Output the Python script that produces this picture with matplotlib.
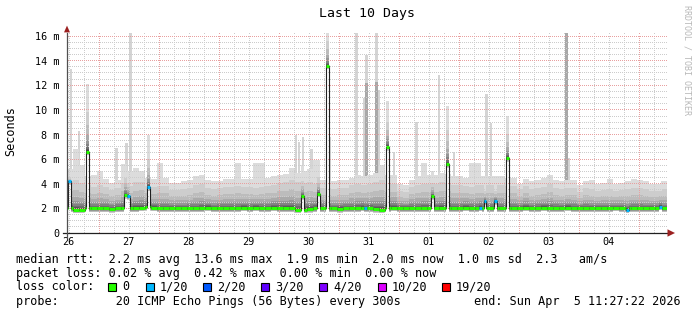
import numpy as np
import matplotlib
matplotlib.use('Agg')
import matplotlib.pyplot as plt
from matplotlib.patches import Rectangle, Polygon

plt.rcParams['font.family'] = ['DejaVu Sans Mono']

# time axis: hours since Thu Mar 26 11:27:22, 10 days shown
bin_h = 2.4
day_labels = ['26', '27', '28', '29', '30', '31', '01', '02', '03', '04']
noon_offset = 0.544          # first label (noon) in hours from start

# median rtt per bin (ms)
med = [2.0, 1.9, 1.9, 2.0, 2.0, 2.0, 2.0, 1.95, 2.0, 2.0,
       2.0, 2.0, 2.05, 2.1, 2.05, 2.0, 2.0, 2.0, 2.0, 2.0,
       2.0, 2.0, 2.0, 2.05, 2.0, 2.0, 2.0, 2.0, 2.0, 2.05,
       2.0, 2.05, 2.0, 2.0, 2.05, 2.0, 2.0, 2.0, 1.9, 1.9,
       1.95, 2.0, 2.0, 2.0, 2.0, 1.95, 2.0, 2.0, 2.0, 2.05,
       2.0, 1.95, 1.9, 2.0, 2.05, 2.0, 2.0, 2.0, 2.0, 2.0,
       2.0, 2.0, 2.0, 2.0, 2.0, 2.0, 2.05, 2.0, 2.0, 2.0,
       2.0, 2.0, 2.0, 2.0, 2.0, 2.0, 2.05, 2.0, 2.0, 2.05,
       2.0, 2.0, 2.0, 2.05, 2.0, 2.0, 2.0, 2.0, 2.0, 2.0,
       2.0, 2.05, 2.0, 2.0, 2.0, 2.0, 2.0, 2.0, 2.0, 2.0]
loss = [0] * 100

# upper smoke level and max ping per bin (ms)
smoke_hi = [4.6, 4.8, 4.5, 4.3, 4.1, 4.3, 4.1, 3.8, 4.0, 4.5,
            4.2, 4.6, 4.6, 4.2, 4.1, 4.2, 4.2, 3.8, 3.8, 3.9,
            4.0, 4.3, 4.4, 4.0, 3.9, 4.0, 4.1, 4.1, 4.2, 4.1,
            4.1, 4.0, 4.1, 4.2, 4.3, 4.5, 4.6, 4.8, 4.6, 4.5,
            4.6, 4.4, 4.0, 4.0, 3.9, 4.0, 4.0, 4.3, 4.4, 4.3,
            4.4, 4.6, 4.8, 4.4, 4.4, 3.7, 3.6, 4.1, 4.3, 4.4,
            4.4, 4.4, 4.6, 4.5, 4.3, 4.3, 4.2, 4.1, 4.3, 4.3,
            4.3, 4.3, 4.3, 4.2, 4.2, 3.9, 4.2, 3.9, 4.0, 4.1,
            4.4, 4.0, 3.9, 4.0, 4.0, 3.6, 4.0, 3.9, 3.7, 3.8,
            3.9, 3.7, 3.8, 3.9, 4.0, 4.0, 3.9, 3.7, 3.7, 3.9]
smoke_max = [5.2, 6.8, 5.5, 4.6, 4.7, 5.0, 4.4, 4.1, 4.3, 5.6,
             5.0, 5.3, 5.0, 4.5, 4.4, 5.7, 4.5, 4.1, 4.1, 4.2,
             4.3, 4.6, 4.7, 4.3, 4.2, 4.2, 4.4, 4.4, 5.7, 4.4,
             4.4, 5.7, 5.7, 4.5, 4.6, 4.7, 4.8, 5.3, 4.9, 5.0,
             5.2, 5.9, 4.3, 4.3, 4.2, 4.3, 4.3, 4.5, 4.7, 4.6,
             4.7, 4.9, 5.5, 4.7, 4.7, 4.0, 3.9, 4.3, 4.6, 5.7,
             4.7, 4.7, 4.9, 4.8, 4.6, 4.6, 4.5, 5.7, 5.7, 4.6,
             4.6, 4.6, 4.6, 4.5, 4.5, 4.0, 4.4, 4.2, 4.3, 4.5,
             4.7, 4.3, 4.2, 4.3, 4.3, 3.9, 4.2, 4.3, 4.0, 4.1,
             4.4, 4.0, 4.1, 4.2, 4.4, 4.3, 4.2, 4.0, 4.0, 4.2]

# short intervals where median moved / packets were lost
jump_t    = [0.2, 7.6, 22.6, 23.8, 31.8, 93.4, 99.8, 103.6, 118.7, 127.6,
             145.6, 151.6, 164.8, 166.6, 170.8, 175.6, 223.6, 236.8]
jump_med  = [4.2, 6.6, 3.1, 3.0, 3.7, 3.0, 3.2, 13.6, 2.0, 7.0,
             3.0, 5.6, 2.05, 2.6, 2.6, 6.1, 1.9, 2.15]
jump_hi   = [4.6, 10.5, 4.8, 4.3, 6.5, 4.5, 4.8, 16.0, 4.3, 9.5,
             4.3, 9.0, 4.3, 3.6, 3.6, 8.5, 3.9, 3.7]
jump_max  = [5.0, 12.1, 5.6, 4.6, 8.0, 5.5, 5.9, 16.3, 4.5, 10.7,
             5.0, 10.3, 4.6, 4.0, 4.0, 9.5, 4.2, 3.9]
jump_loss = [1, 0, 0, 1, 1, 0, 0, 0, 1, 0,
             0, 0, 1, 1, 1, 0, 1, 1]

# single outlier spikes: time, max ping, second ping level (0 = lone ping)
spike_t   = [1.6, 3.8, 4.8, 19.8, 23.8, 25.4, 91.6, 92.8, 94.4, 97.8,
             105.0, 115.8, 118.8, 119.8, 123.8, 124.8, 130.8, 139.8, 148.8, 154.8,
             167.8, 169.6, 199.8, 200.8]
spike_top = [13.3, 6.8, 8.3, 6.9, 7.3, 16.3, 8.0, 7.4, 7.8, 6.8,
             7.8, 16.3, 11.0, 14.5, 16.3, 11.6, 6.6, 9.0, 12.8, 6.6,
             11.3, 8.9, 16.3, 6.1]
spike_mid = [0, 0, 0, 0, 0, 0, 0, 0, 0, 0,
             0, 0, 0, 12.2, 12.3, 0, 0, 0, 0, 0,
             0, 0, 16.3, 0]

loss_colors = {0: '#26ff00', 1: '#00b8ff', 2: '#0059ff', 3: '#5e00ff',
               4: '#7e00ff', 10: '#dd00ff', 19: '#ff0000'}
legend_keys = [0, 1, 2, 3, 4, 10, 19]
legend_names = ['0', '1/20', '2/20', '3/20', '4/20', '10/20', '19/20']

W, H = 697, 315
PW, PH = 600, 200
fig = plt.figure(figsize=(W / 100, H / 100), dpi=100)
ax = fig.add_axes([67 / W, 1 - 233 / H, PW / W, PH / H])
ymax = PH / 12.31
ax.set_xlim(0, 240)
ax.set_ylim(0, ymax)
for s in ax.spines.values():
    s.set_visible(False)

shades = [220, 205, 188, 170, 150, 130, 110, 90, 70, 50]
f_up = [0.82, 0.55, 0.36, 0.24, 0.16, 0.10, 0.06, 0.03, 0.015]
g_lo = [0.0, 0.15, 0.3, 0.42, 0.52, 0.6, 0.68, 0.75, 0.82]


def smoke(edges, m, hi, mx, z):
    m = np.asarray(m, float)
    hi = np.asarray(hi, float)
    mx = np.asarray(mx, float)
    lo = m - 0.3
    def fill(lower, upper, c):
        ax.fill_between(edges, np.append(lower, lower[-1]), np.append(upper, upper[-1]),
                        step='post', color=c, lw=0, zorder=z)
    fill(lo, mx, '#%02x%02x%02x' % ((shades[0],) * 3))
    for k in range(9):
        up = m + (hi - m) * f_up[k]
        dn = lo + (m - lo) * g_lo[k]
        fill(dn, up, '#%02x%02x%02x' % ((shades[k + 1],) * 3))


# outlier spikes (behind the smoke)
for t, top, mid in zip(spike_t, spike_top, spike_mid):
    ax.add_patch(Rectangle((t - 0.5, 2.0), 1.0, top - 2.0, color='#d4d4d4', lw=0, zorder=1))
    if mid > 0:
        ax.add_patch(Rectangle((t - 0.5, 2.0), 1.0, mid - 2.0, color='#a8a8a8', lw=0, zorder=1.1))

edges = np.arange(len(med) + 1) * bin_h
smoke(edges, med, smoke_hi, smoke_max, 2)

jw = 1.2
for t, jm, jh, jx in zip(jump_t, jump_med, jump_hi, jump_max):
    ax.add_patch(Rectangle((t, 0), jw, jm - 0.3, color='white', lw=0, zorder=3))
    smoke(np.array([t, t + jw]), [jm], [jh], [jx], 3.5)

# dotted grid, one pixel marker every second pixel (rrdtool style)
px_h = 240 / PW
px_v = ymax / PH
dot_cols = (np.arange(0, PW, 2) + 0.5) * px_h
dot_rows = (np.arange(0, PH, 2) + 0.5) * px_v
gx = {True: [], False: []}
gy = {True: [], False: []}
for y in np.arange(0.5, ymax, 0.5):
    major = abs(y / 2 - round(y / 2)) < 1e-6
    ysnap = (np.floor(y / px_v) + 0.5) * px_v
    gx[major] += list(dot_cols)
    gy[major] += [ysnap] * len(dot_cols)
for k in range(41):
    x = noon_offset + 6 * k
    if 0 < x < 240:
        major = (k % 4) == 2
        xsnap = (np.floor(x / px_h) + 0.5) * px_h
        gx[major] += [xsnap] * len(dot_rows)
        gy[major] += list(dot_rows)
ax.plot(gx[False], gy[False], ls='none', marker=',', color='#cccccc', zorder=5)
ax.plot(gx[True], gy[True], ls='none', marker=',', color='#e8a0a0', zorder=5.1)

# median trace, coloured by loss
events = sorted(zip(jump_t, jump_med, jump_loss))
segs = []
cur = 0.0
for i in range(len(med)):
    t0, t1 = i * bin_h, (i + 1) * bin_h
    cur = max(cur, t0)
    for t, jm, jl in events:
        if t0 <= t < t1:
            if t > cur:
                segs.append((cur, t, med[i], loss[i]))
            segs.append((t, t + jw, jm, jl))
            cur = t + jw
    if cur < t1:
        segs.append((cur, t1, med[i], loss[i]))
xs, ys = [], []
for a, b, v, l in segs:
    xs += [a, b]
    ys += [v, v]
ax.plot(xs, ys, color='#202020', lw=0.8, zorder=6)
for a, b, v, l in segs:
    ax.plot([a, b], [v, v], color=loss_colors[l], lw=2.2, solid_capstyle='butt', zorder=7)

# axes with arrows
ax.plot([-1.6, 240.5], [0, 0], color='#202020', lw=0.9, clip_on=False, zorder=8)
ax.plot([0, 0], [-0.4, ymax], color='#505050', lw=0.9, clip_on=False, zorder=8)
ax.add_patch(Polygon([[240.2, -0.3], [240.2, 0.3], [243.2, 0]], closed=True,
                     color='#9b2020', lw=0, clip_on=False, zorder=9))
ax.add_patch(Polygon([[-1.2, ymax + 0.05], [1.2, ymax + 0.05], [0, ymax + 0.6]], closed=True,
                     color='#9b2020', lw=0, clip_on=False, zorder=9))

ax.set_xlim(0, 240)
ax.set_ylim(0, ymax)
ax.set_yticks(range(0, 17, 2))
ax.set_yticklabels(['0'] + ['%d m' % v for v in range(2, 17, 2)])
ax.set_xticks([noon_offset + 24 * k for k in range(len(day_labels))])
ax.set_xticklabels(day_labels)
ax.tick_params(axis='y', length=0, pad=5.5, labelsize=7.3)
ax.tick_params(axis='x', length=0, pad=3, labelsize=7.3)


def fx(x):
    return x / W


def fy(y):
    return 1 - y / H


fig.text(fx(367), fy(14), 'Last 10 Days', ha='center', va='center', fontsize=9.5)
fig.text(fx(11), fy(131), 'Seconds', rotation=90, ha='center', va='center', fontsize=8.5)
fig.text(fx(687), fy(5), 'RRDTOOL / TOBI OETIKER', rotation=270, ha='center', va='top',
         fontsize=6, color='#b8b8b8')

lfs = 8.5
fig.text(fx(16), fy(259), 'median rtt:  2.2 ms avg  13.6 ms max  1.9 ms min  2.0 ms now  1.0 ms sd  2.3   am/s',
         va='center', fontsize=lfs)
fig.text(fx(16), fy(273), 'packet loss: 0.02 % avg  0.42 % max  0.00 % min  0.00 % now',
         va='center', fontsize=lfs)
fig.text(fx(16), fy(287), 'loss color:', va='center', fontsize=lfs)
box_x = [108, 146, 203, 261, 319, 378, 442]
for bx, key, name in zip(box_x, legend_keys, legend_names):
    fig.add_artist(Rectangle((fx(bx), fy(291)), 8 / W, 8 / H, transform=fig.transFigure,
                             facecolor=loss_colors[key], edgecolor='black', lw=0.8))
    fig.text(fx(bx + 14), fy(287), name, va='center', fontsize=lfs)
fig.text(fx(16), fy(301), 'probe:        20 ICMP Echo Pings (56 Bytes) every 300s',
         va='center', fontsize=lfs)
fig.text(fx(474), fy(301), 'end: Sun Apr  5 11:27:22 2026', va='center', fontsize=lfs)

fig.savefig('out.png', dpi=100, facecolor='white')
